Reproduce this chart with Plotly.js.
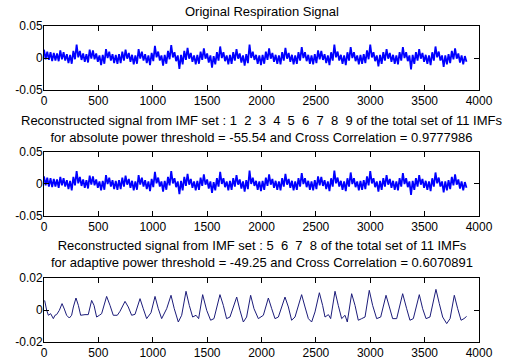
<!DOCTYPE html>
<html>
<head>
<meta charset="utf-8">
<script src="https://cdn.plot.ly/plotly-3.0.1.min.js"></script>
<style>html,body{margin:0;padding:0;background:#fff;}#chart{width:512px;height:363px;}</style>
</head>
<body>
<div id="chart"></div>
<script>
// Sample step of the band-envelope readings (samples)
const step12 = 15;

// Original respiration signal: alternating top / bottom of the dense noise band
const sigOriginal = [
.013,-.002,.010,-.003,.009,-.005,.008,-.004,.007,-.005,.012,-.002,.009,-.004,.006,-.008,.005,-.009,.011,-.002,
.021,.001,.011,-.003,.007,-.006,.006,-.007,.013,-.001,.012,-.002,.007,-.006,.004,-.011,.005,-.009,.014,.000,
.010,-.004,.006,-.008,.005,-.009,.006,-.008,.010,-.004,.013,-.001,.008,-.006,.005,-.010,.004,-.009,.014,-.001,
.010,-.004,.006,-.008,.004,-.011,.008,-.005,.019,.001,.010,-.004,.004,-.012,.005,-.009,.011,-.002,.020,.001,
.009,-.005,.004,-.017,.005,-.010,.011,-.003,.016,-.001,.008,-.006,.004,-.010,.005,-.009,.010,-.003,.015,-.001,
.007,-.007,.004,-.015,.003,-.010,.009,-.004,.018,.000,.009,-.005,.004,-.010,.005,-.009,.009,-.004,.014,-.001,
.007,-.007,.004,-.012,.006,-.008,.021,.000,.010,-.003,.005,-.009,.004,-.011,.005,-.009,.010,-.003,.015,-.001,
.008,-.006,.005,-.009,.004,-.010,.009,-.004,.016,-.001,.008,-.006,.005,-.010,.004,-.009,.009,-.004,.017,.000,
.009,-.005,.005,-.009,.004,-.010,.006,-.008,.012,-.002,.011,-.003,.006,-.008,.004,-.011,.009,-.004,.021,.001,
.010,-.004,.005,-.009,.004,-.011,.009,-.004,.017,.000,.009,-.005,.004,-.010,.005,-.009,.006,-.008,.012,-.002,
.021,.001,.009,-.005,.004,-.013,.005,-.009,.009,-.004,.014,-.001,.008,-.006,.005,-.009,.004,-.010,.009,-.004,
.017,.000,.009,-.005,.004,-.018,.005,-.009,.009,-.004,.014,-.001,.008,-.006,.005,-.009,.004,-.011,.009,-.004,
.018,.001,.010,-.004,.004,-.014,.004,-.010,.006,-.008,.011,-.002,.015,-.001,.007,-.007,.004,-.010,.003,-.006
];

// Reconstructed signal from IMFs 1..9: alternating top / bottom of the band
const sigRecon9 = [
.012,-.002,.010,-.004,.009,-.005,.008,-.004,.007,-.006,.011,-.002,.009,-.004,.006,-.008,.005,-.010,.011,-.002,
.020,.001,.011,-.003,.007,-.006,.006,-.007,.013,-.001,.012,-.002,.007,-.006,.004,-.010,.005,-.009,.014,.000,
.010,-.004,.006,-.008,.005,-.009,.006,-.008,.010,-.004,.013,-.001,.008,-.006,.005,-.010,.004,-.009,.014,-.001,
.010,-.004,.006,-.008,.004,-.011,.008,-.005,.019,.001,.010,-.004,.004,-.012,.005,-.009,.011,-.002,.020,.001,
.009,-.005,.004,-.016,.005,-.010,.011,-.003,.016,-.001,.008,-.006,.004,-.010,.005,-.009,.010,-.003,.015,-.001,
.007,-.007,.004,-.014,.003,-.010,.009,-.004,.019,.000,.009,-.005,.004,-.010,.005,-.009,.009,-.004,.014,-.001,
.007,-.007,.004,-.012,.006,-.008,.021,.000,.010,-.003,.005,-.009,.004,-.011,.005,-.009,.010,-.003,.015,-.001,
.008,-.006,.005,-.009,.004,-.010,.009,-.004,.016,-.001,.008,-.006,.005,-.010,.004,-.009,.009,-.004,.017,.000,
.009,-.005,.005,-.009,.004,-.010,.006,-.008,.012,-.002,.011,-.003,.006,-.008,.004,-.011,.009,-.004,.021,.001,
.010,-.004,.005,-.009,.004,-.011,.009,-.004,.018,.000,.009,-.005,.004,-.010,.005,-.009,.006,-.008,.012,-.002,
.020,.001,.009,-.005,.004,-.012,.005,-.009,.009,-.004,.014,-.001,.008,-.006,.005,-.009,.004,-.010,.009,-.004,
.017,.000,.009,-.005,.004,-.017,.005,-.009,.009,-.004,.014,-.001,.008,-.006,.005,-.009,.004,-.011,.009,-.004,
.018,.001,.010,-.004,.004,-.013,.004,-.010,.006,-.008,.011,-.002,.015,-.001,.007,-.007,.004,-.010,.003,-.006
];

// Reconstructed signal from IMFs 5..8 (sample index, value)
const t3 = [6,24,40,61,86,101,116,141,166,187,208,233,254,270,294,316,337,377,407,438,460,484,509,530,576,607,637,674,699,745,
775,806,837,883,913,944,984,1021,1051,1082,1128,1168,1198,1235,1266,1306,1336,1367,1398,1422,1459,1496,1532,1563,1618,1649,1679,1710,1772,1802,
1833,1863,1900,1931,1971,2017,2063,2094,2124,2155,2216,2247,2277,2308,2369,2400,2431,2461,2492,2532,2562,2584,2615,2636,2676,2706,2737,2768,2789,2829,
2860,2890,2921,2952,2991,3022,3059,3096,3145,3176,3206,3243,3298,3335,3365,3396,3451,3482,3513,3549,3604,3635,3666,3703,3734,3773,3804,3835,3862,3886];
const y3 = [.0060,.0000,-.0033,-.0023,-.0054,-.0033,-.0029,-.0002,.0040,.0006,-.0033,-.0050,-.0033,.0019,.0075,.0029,-.0033,-.0029,-.0029,.0060,.0029,-.0044,-.0033,-.0023,.0085,.0029,-.0033,-.0033,-.0008,.0054,
.0019,-.0033,-.0027,.0071,.0008,-.0054,-.0017,.0085,.0008,-.0054,.0008,.0092,.0008,-.0075,-.0033,.0117,.0029,-.0044,-.0033,-.0054,.0096,-.0002,-.0064,-.0054,.0096,.0029,-.0054,-.0044,.0081,-.0002,
-.0075,-.0044,.0092,.0008,-.0054,-.0033,.0075,.0008,-.0054,-.0044,.0081,.0019,-.0064,-.0044,.0096,.0019,-.0054,-.0075,-.0012,.0108,.0029,-.0044,-.0029,-.0054,.0117,.0029,-.0054,-.0033,-.0075,.0102,
.0029,-.0064,-.0054,-.0044,.0123,.0029,-.0054,-.0044,.0092,.0019,-.0054,-.0054,.0102,.0008,-.0064,-.0054,.0096,.0008,-.0054,-.0044,.0129,.0040,-.0044,-.0085,-.0054,.0092,.0008,-.0064,-.0054,-.0040];

const xTicks = [0,500,1000,1500,2000,2500,3000,3500,4000];
const yTicks12 = [-0.05,0,0.05];
const yTickText12 = ['-0.05','0','0.05'];
const yTicks3 = [-0.02,0,0.02];
const yTickText3 = ['-0.02','0','0.02'];

const title1 = 'Original Respiration Signal';
const title2 = ['Reconstructed signal from IMF set : 1  2  3  4  5  6  7  8  9 of the total set of 11 IMFs',
                'for absolute power threshold = -55.54 and Cross Correlation = 0.9777986'];
const title3 = ['Reconstructed signal from IMF set : 5  6  7  8 of the total set of 11 IMFs',
                'for adaptive power threshold = -49.25 and Cross Correlation = 0.6070891'];

const nb = s => s.replace(/ {2}/g, ' \u00a0');
const idx = arr => arr.map((_, i) => i * step12);

const TICKFONT = {family: 'Liberation Sans, Arial, sans-serif', size: 12, color: '#000'};
const TITLEFONT = {family: 'Liberation Sans, Arial, sans-serif', size: 13, color: '#000'};

const traces = [
  {x: idx(sigOriginal), y: sigOriginal, type: 'scatter', mode: 'lines', line: {color: '#0000ff', width: 1.8, simplify: false}, xaxis: 'x', yaxis: 'y', hoverinfo: 'skip'},
  {x: idx(sigRecon9), y: sigRecon9, type: 'scatter', mode: 'lines', line: {color: '#0000ff', width: 1.8, simplify: false}, xaxis: 'x2', yaxis: 'y2', hoverinfo: 'skip'},
  {x: t3, y: y3, type: 'scatter', mode: 'lines', line: {color: '#1c1c7a', width: 1, simplify: false}, xaxis: 'x3', yaxis: 'y3', hoverinfo: 'skip'}
];

function xa(anchor) {
  return {anchor: anchor, domain: [0, 1], range: [0, 4000], tickmode: 'array', tickvals: xTicks,
    ticktext: xTicks.map(String), ticks: 'inside', ticklen: 5, tickcolor: '#000', mirror: 'ticks',
    showline: true, linecolor: '#000', linewidth: 1, showgrid: false, zeroline: false, tickfont: TICKFONT,
    fixedrange: true};
}
function ya(anchor, dom, r, tv, tt) {
  return {anchor: anchor, domain: dom, range: r, tickmode: 'array', tickvals: tv, ticktext: tt,
    ticks: 'inside', ticklen: 5, tickcolor: '#000', mirror: 'ticks', showline: true, linecolor: '#000',
    linewidth: 1, showgrid: false, zeroline: false, tickfont: TICKFONT, ticklabelstandoff: -2, fixedrange: true};
}

const layout = {
  width: 512, height: 363,
  margin: {l: 44, r: 33, t: 26, b: 21, pad: 0},
  paper_bgcolor: '#fff', plot_bgcolor: '#fff', showlegend: false,
  font: TICKFONT,
  xaxis: xa('y'), xaxis2: xa('y2'), xaxis3: xa('y3'),
  yaxis: ya('x', [0.7975, 1], [-0.05, 0.05], yTicks12, yTickText12),
  yaxis2: ya('x2', [0.3987, 0.6013], [-0.05, 0.05], yTicks12, yTickText12),
  yaxis3: ya('x3', [0, 0.2025], [-0.02, 0.02], yTicks3, yTickText3),
  annotations: [
    {text: title1, xref: 'paper', yref: 'paper', x: 0.5, y: 1.0465, xanchor: 'center', yanchor: 'middle', showarrow: false, font: TITLEFONT},
    {text: nb(title2.join('<br>')), xref: 'paper', yref: 'paper', x: 0.5, y: 0.6725, xanchor: 'center', yanchor: 'middle', showarrow: false, font: TITLEFONT},
    {text: nb(title3.join('<br>')), xref: 'paper', yref: 'paper', x: 0.5, y: 0.278, xanchor: 'center', yanchor: 'middle', showarrow: false, font: TITLEFONT}
  ]
};

Plotly.newPlot('chart', traces, layout, {staticPlot: true, displayModeBar: false});
</script>
</body>
</html>
